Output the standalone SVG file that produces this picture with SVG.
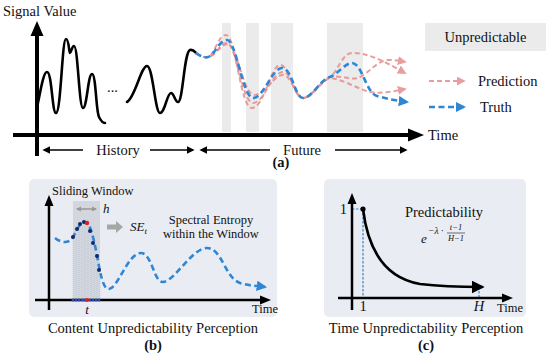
<svg xmlns="http://www.w3.org/2000/svg" width="550" height="359" viewBox="0 0 550 359">
<style>
text{font-family:'Liberation Serif','Times New Roman',serif;fill:#111}
.t14{font-size:14.5px}
.t12{font-size:12.5px}
.b{font-weight:bold}
.it{font-style:italic}
.blk{fill:none;stroke:#000;stroke-width:2.6;stroke-linecap:round;stroke-linejoin:round}
.ax{stroke:#000;fill:none}
.blue{fill:none;stroke:#2e86d4;stroke-width:2.6;stroke-dasharray:6 3.5}
.pred{fill:none;stroke:#e58e8e;stroke-width:2;stroke-dasharray:5 3;opacity:0.85}
.bar{fill:#ebebeb}
.panel{fill:#e9edf3}
.vd{stroke:#a9b9d6;stroke-width:0.6;stroke-dasharray:1 1}
</style>
<defs>
<marker id="ahP" viewBox="0 0 10 10" refX="8" refY="5" markerWidth="4.5" markerHeight="4.5" orient="auto" markerUnits="strokeWidth"><path d="M0,0 L10,5 L0,10 z" fill="#e58e8e"/></marker>
<marker id="ahB" viewBox="0 0 10 10" refX="8" refY="5" markerWidth="4" markerHeight="4" orient="auto" markerUnits="strokeWidth"><path d="M0,0 L10,5 L0,10 z" fill="#2e86d4"/></marker>
<marker id="ahK" viewBox="0 0 10 10" refX="8" refY="5" markerWidth="5" markerHeight="5" orient="auto" markerUnits="strokeWidth"><path d="M0,0 L10,5 L0,10 z" fill="#000"/></marker>
<marker id="ahG" viewBox="0 0 10 10" refX="8" refY="5" markerWidth="3.5" markerHeight="3.5" orient="auto-start-reverse" markerUnits="strokeWidth"><path d="M0,0 L10,5 L0,10 z" fill="#999"/></marker>
</defs>
<g font-family="Liberation Serif, serif">
<!-- Panel (a) -->
<g id="panel-a">
<rect class="bar" x="222" y="23" width="9" height="109"/>
<rect class="bar" x="246" y="23" width="13" height="109"/>
<rect class="bar" x="271" y="23" width="22" height="109"/>
<rect class="bar" x="327" y="23" width="36" height="109"/>
<text class="t14" x="3" y="16">Signal Value</text>
<line class="ax" x1="37" y1="156" x2="37" y2="34" stroke-width="4"/>
<polygon points="37,21 30.5,36 43.5,36" fill="#000"/>
<line class="ax" x1="13" y1="135" x2="410" y2="135" stroke-width="4"/>
<polygon points="424,135 408,128.5 408,141.5" fill="#000"/>
<text class="t14" x="428" y="140">Time</text>
<path class="blk" d="M37,107 C40,95 43,72 47,72 C52,72 52,113 56,113 C61,113 62,39 66,39 C69,39 69,53 70,53 C71,53 72,46 74,46 C78,46 79,108 83,108 C87,108 88,74 92,74 C96,74 96,112 99,117 C101,121 103,123 105,123"/>
<text class="t14" x="107" y="92">...</text>
<path class="blk" d="M127,102 C135,98 141,66 147,66 C153,66 155,113 160,113 C165,113 167,93 171,93 C174,93 175,102 178,102 C183,102 184,52 190,50 C193,49 195,52 196,53"/>
<path class="pred" marker-end="url(#ahP)" d="M196,53 C200,56 204,58 208,57 C214,56 218,35 226,35 C236,35 240,108 252,108 C264,108 271,65 280,65 C290,65 294,98 303,98 C312,98 320,80 330,77 C338,72 342,53 352,53 C368,53 382,60 405,73"/>
<path class="pred" marker-end="url(#ahP)" d="M196,53 C200,56 204,58 208,57 C216,56 220,43 227,43 C236,43 242,103 253,103 C264,103 272,72 283,72 C292,72 295,98 303,98 C312,98 320,80 330,77 C340,75 350,80 358,78 C368,74 378,60 388,60 C395,60 400,61 405,62"/>
<path class="pred" marker-end="url(#ahP)" d="M196,53 C200,56 204,58 208,57 C216,56 220,44 228,44 C236,44 244,95 254,95 C264,95 274,75 283,75 C292,75 295,98 303,98 C312,98 320,82 330,78 C345,80 360,90 370,92 C385,94 395,91 405,89"/>
<path class="blue" marker-end="url(#ahB)" d="M196,53 C200,56 204,58 208,57 C214,56 219,40 227,40 C236,40 243,98 253,98 C264,98 272,68 282,68 C292,68 295,98 303,98 C312,98 320,80 330,77 C338,74 345,63 352,63 C362,63 366,93 377,96 C388,99 398,101 407,102"/>
<rect class="bar" x="425" y="23" width="121" height="28"/>
<text class="t14" x="485.5" y="42" text-anchor="middle">Unpredictable</text>
<line class="pred" x1="429" y1="81" x2="464" y2="81" marker-end="url(#ahP)"/>
<text class="t14" x="478" y="86">Prediction</text>
<line class="blue" x1="429" y1="107" x2="464" y2="107" marker-end="url(#ahB)"/>
<text class="t14" x="480" y="112">Truth</text>
<line class="ax" x1="83" y1="150" x2="44" y2="150" stroke-width="1.6" marker-end="url(#ahK)"/>
<text class="t14" x="118" y="155" text-anchor="middle">History</text>
<line class="ax" x1="150" y1="150" x2="193" y2="150" stroke-width="1.6" marker-end="url(#ahK)"/>
<line class="ax" x1="270" y1="150" x2="201" y2="150" stroke-width="1.6" marker-end="url(#ahK)"/>
<text class="t14" x="302" y="155" text-anchor="middle">Future</text>
<line class="ax" x1="335" y1="150" x2="406" y2="150" stroke-width="1.6" marker-end="url(#ahK)"/>
<text class="t14 b" x="281" y="167" text-anchor="middle">(a)</text>
</g>

<!-- Panel (b) -->
<g id="panel-b">
<rect class="panel" x="29" y="179" width="248" height="138" rx="5"/>
<rect x="73" y="201" width="27" height="99" fill="#d3d6dc"/>
<g>
<line class="vd" x1="73" y1="237" x2="73" y2="300"/>
<line class="vd" x1="76" y1="231" x2="76" y2="300"/>
<line class="vd" x1="79" y1="226" x2="79" y2="300"/>
<line class="vd" x1="82" y1="223" x2="82" y2="300"/>
<line class="vd" x1="85" y1="222" x2="85" y2="300"/>
<line class="vd" x1="88" y1="224" x2="88" y2="300"/>
<line class="vd" x1="91" y1="231" x2="91" y2="300"/>
<line class="vd" x1="94" y1="242" x2="94" y2="300"/>
<line class="vd" x1="97" y1="256" x2="97" y2="300"/>
<line class="vd" x1="100" y1="271" x2="100" y2="300"/>
</g>
<text class="t12" x="52" y="195">Sliding Window</text>
<line x1="77" y1="209" x2="96" y2="209" stroke="#999" stroke-width="1.5" marker-start="url(#ahG)" marker-end="url(#ahG)"/>
<text class="it" x="103" y="213" font-size="13">h</text>
<polygon points="107,224.5 116,224.5 116,221 123,227 116,233 116,229.5 107,229.5" fill="#a6a6a6"/>
<text class="it" x="130" y="231" font-size="13">SE<tspan font-size="9" dy="3">t</tspan></text>
<text class="t12" x="211" y="224" text-anchor="middle">Spectral Entropy</text>
<text class="t12" x="211" y="238" text-anchor="middle">within the Window</text>
<line class="ax" x1="49" y1="310" x2="49" y2="204" stroke-width="2.5"/>
<polygon points="49,195 44.5,206 53.5,206" fill="#000"/>
<line class="ax" x1="35" y1="300" x2="262" y2="300" stroke-width="2.5"/>
<polygon points="271,300 260,295.5 260,304.5" fill="#000"/>
<text class="t12" x="252" y="313">Time</text>
<path class="blue" marker-end="url(#ahB)" d="M55,238 C60,242 68,245 73,237 C77,230 80,222 85,222 C90,222 93,236 97,255 C100,272 103,290 109,289 C118,288 128,253 141,253 C152,253 154,283 163,282 C175,281 192,248 207,248 C222,248 225,278 240,283 C250,286 258,286 265,287"/>
<g fill="#16266b">
<circle cx="73" cy="237" r="2"/>
<circle cx="77" cy="229" r="2"/>
<circle cx="80" cy="224" r="2"/>
<circle cx="84" cy="222" r="2"/>
<circle cx="90" cy="231" r="2"/>
<circle cx="93" cy="243" r="2"/>
<circle cx="97" cy="256" r="2"/>
<circle cx="99" cy="270" r="2"/>
</g>
<circle cx="87" cy="223" r="2.2" fill="#e02020"/>
<g fill="#2a4ea8">
<circle cx="73" cy="300" r="1.5"/><circle cx="76" cy="300" r="1.5"/><circle cx="79" cy="300" r="1.5"/><circle cx="82" cy="300" r="1.5"/><circle cx="84.5" cy="300" r="1.5"/><circle cx="90" cy="300" r="1.5"/><circle cx="93" cy="300" r="1.5"/><circle cx="96" cy="300" r="1.5"/><circle cx="99" cy="300" r="1.5"/>
</g>
<circle cx="87" cy="300" r="2" fill="#e02020"/>
<text class="it" x="87" y="314" font-size="13" text-anchor="middle">t</text>
<text class="t14" x="153" y="333" text-anchor="middle">Content Unpredictability Perception</text>
<text class="t14 b" x="153" y="350" text-anchor="middle">(b)</text>
</g>

<!-- Panel (c) -->
<g id="panel-c">
<rect class="panel" x="324" y="179" width="202" height="138" rx="5"/>
<line x1="352" y1="209" x2="363" y2="209" stroke="#2e86d4" stroke-width="1.2" stroke-dasharray="2.5 1.5"/>
<line x1="363" y1="209" x2="363" y2="298" stroke="#2e86d4" stroke-width="1.2" stroke-dasharray="2.5 1.5"/>
<line x1="479" y1="287" x2="479" y2="298" stroke="#2e86d4" stroke-width="1.2" stroke-dasharray="2.5 1.5"/>
<line class="ax" x1="352" y1="310" x2="352" y2="203" stroke-width="2.5"/>
<polygon points="352,193 347.5,204 356.5,204" fill="#000"/>
<line class="ax" x1="338" y1="298" x2="504" y2="298" stroke-width="2.5"/>
<polygon points="513,298 502,293.5 502,302.5" fill="#000"/>
<path class="blk" marker-end="url(#ahK)" d="M363,209 C368,250 385,278 420,284 C445,287 462,287 482,287"/>
<circle cx="363" cy="209" r="2.6" fill="#000"/>
<text class="t14" x="347" y="214" text-anchor="end">1</text>
<text class="t14" x="363" y="311" text-anchor="middle">1</text>
<text class="t14 it" x="479" y="311" text-anchor="middle">H</text>
<text class="t12" x="497" y="312">Time</text>
<text class="t14" x="444" y="217" text-anchor="middle">Predictability</text>
<text class="it" x="421" y="243" font-size="13">e</text>
<text class="it" x="428" y="234" font-size="9.5">−λ ·</text>
<text class="it" x="456" y="230" font-size="8.5" text-anchor="middle">t−1</text>
<line x1="447" y1="233" x2="465" y2="233" stroke="#111" stroke-width="0.6"/>
<text class="it" x="456" y="240.5" font-size="8.5" text-anchor="middle">H−1</text>
<text class="t14" x="426" y="333" text-anchor="middle">Time Unpredictability Perception</text>
<text class="t14 b" x="426" y="350" text-anchor="middle">(c)</text>
</g>
</g>
</svg>
